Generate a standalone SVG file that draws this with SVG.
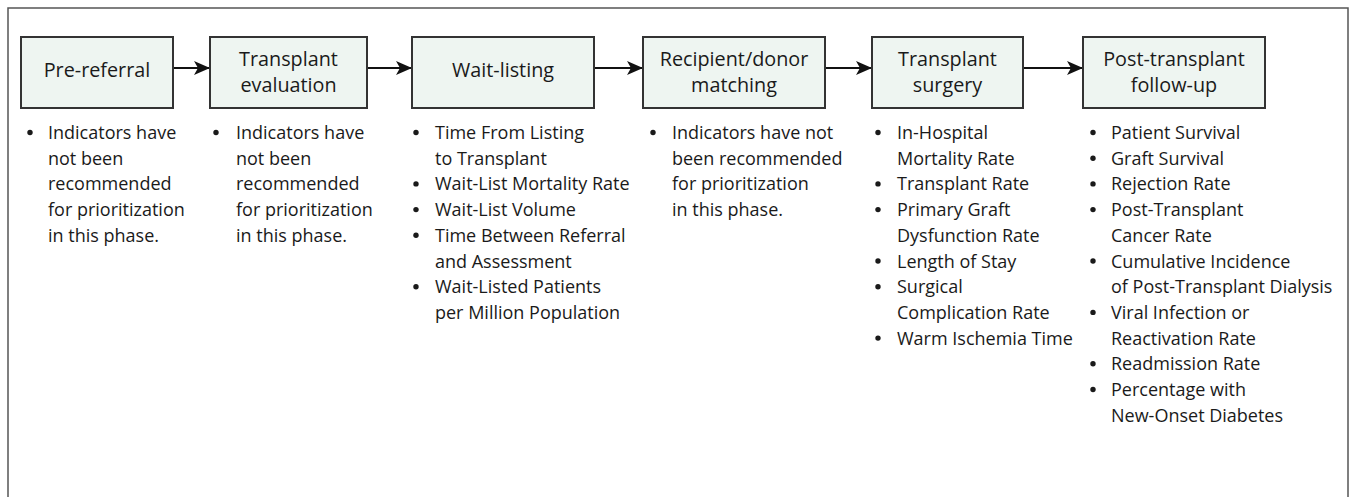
<svg xmlns="http://www.w3.org/2000/svg" width="1352" height="497" viewBox="0 0 1352 497">
<defs>
<style>
.box{fill:#eef5f1;stroke:#333;stroke-width:2}
.ttl{font-family:"Open Sans","Liberation Sans",sans-serif;font-size:19.8px;fill:#1a1a1a;text-anchor:middle}
.li{font-family:"Open Sans","Liberation Sans",sans-serif;font-size:18px;fill:#1a1a1a}
.bu{fill:#1a1a1a}
.con{stroke:#111;stroke-width:2;fill:none}
</style>
<marker id="ah" viewBox="0 0 16 14" refX="16" refY="7" markerWidth="16" markerHeight="14" markerUnits="userSpaceOnUse" orient="auto">
<path d="M0,0 L16,7 L0,14 L4,7 Z" fill="#111"/>
</marker>
</defs>
<rect x="0" y="0" width="1352" height="497" fill="#fff"/>
<rect x="8" y="8" width="1340" height="500" fill="none" stroke="#555" stroke-width="1.5"/>

<g id="connectors">
<line class="con" x1="173" y1="68" x2="210" y2="68" marker-end="url(#ah)"/>
<line class="con" x1="367" y1="68" x2="412" y2="68" marker-end="url(#ah)"/>
<line class="con" x1="594" y1="68" x2="643" y2="68" marker-end="url(#ah)"/>
<line class="con" x1="825" y1="68" x2="872" y2="68" marker-end="url(#ah)"/>
<line class="con" x1="1023" y1="68" x2="1083" y2="68" marker-end="url(#ah)"/>
</g>

<g id="pre-referral">
<rect class="box" x="21" y="37" width="152" height="71"/>
<text class="ttl" x="97" y="77">Pre-referral</text>
<circle class="bu" cx="30" cy="132.5" r="2.7"/>
<text class="li" x="48" y="139">Indicators have</text>
<text class="li" x="48" y="164.7">not been</text>
<text class="li" x="48" y="190.4">recommended</text>
<text class="li" x="48" y="216.1">for prioritization</text>
<text class="li" x="48" y="241.8">in this phase.</text>
</g>

<g id="transplant-evaluation">
<rect class="box" x="210" y="37" width="157" height="71"/>
<text class="ttl" x="288.5" y="65.5">Transplant</text>
<text class="ttl" x="288.5" y="91.5">evaluation</text>
<circle class="bu" cx="216" cy="132.5" r="2.7"/>
<text class="li" x="236" y="139">Indicators have</text>
<text class="li" x="236" y="164.7">not been</text>
<text class="li" x="236" y="190.4">recommended</text>
<text class="li" x="236" y="216.1">for prioritization</text>
<text class="li" x="236" y="241.8">in this phase.</text>
</g>

<g id="wait-listing">
<rect class="box" x="412" y="37" width="182" height="71"/>
<text class="ttl" x="503" y="77">Wait-listing</text>
<circle class="bu" cx="416" cy="132.5" r="2.7"/>
<text class="li" x="435" y="139">Time From Listing</text>
<text class="li" x="435" y="164.7">to Transplant</text>
<circle class="bu" cx="416" cy="183.9" r="2.7"/>
<text class="li" x="435" y="190.4">Wait-List Mortality Rate</text>
<circle class="bu" cx="416" cy="209.6" r="2.7"/>
<text class="li" x="435" y="216.1">Wait-List Volume</text>
<circle class="bu" cx="416" cy="235.3" r="2.7"/>
<text class="li" x="435" y="241.8">Time Between Referral</text>
<text class="li" x="435" y="267.5">and Assessment</text>
<circle class="bu" cx="416" cy="286.7" r="2.7"/>
<text class="li" x="435" y="293.2">Wait-Listed Patients</text>
<text class="li" x="435" y="318.9">per Million Population</text>
</g>

<g id="recipient-donor-matching">
<rect class="box" x="643" y="37" width="182" height="71"/>
<text class="ttl" x="734" y="65.5">Recipient/donor</text>
<text class="ttl" x="734" y="91.5">matching</text>
<circle class="bu" cx="653" cy="132.5" r="2.7"/>
<text class="li" x="672" y="139">Indicators have not</text>
<text class="li" x="672" y="164.7">been recommended</text>
<text class="li" x="672" y="190.4">for prioritization</text>
<text class="li" x="672" y="216.1">in this phase.</text>
</g>

<g id="transplant-surgery">
<rect class="box" x="872" y="37" width="151" height="71"/>
<text class="ttl" x="947.5" y="65.5">Transplant</text>
<text class="ttl" x="947.5" y="91.5">surgery</text>
<circle class="bu" cx="878" cy="132.5" r="2.7"/>
<text class="li" x="897" y="139">In-Hospital</text>
<text class="li" x="897" y="164.7">Mortality Rate</text>
<circle class="bu" cx="878" cy="183.9" r="2.7"/>
<text class="li" x="897" y="190.4">Transplant Rate</text>
<circle class="bu" cx="878" cy="209.6" r="2.7"/>
<text class="li" x="897" y="216.1">Primary Graft</text>
<text class="li" x="897" y="241.8">Dysfunction Rate</text>
<circle class="bu" cx="878" cy="261" r="2.7"/>
<text class="li" x="897" y="267.5">Length of Stay</text>
<circle class="bu" cx="878" cy="286.7" r="2.7"/>
<text class="li" x="897" y="293.2">Surgical</text>
<text class="li" x="897" y="318.9">Complication Rate</text>
<circle class="bu" cx="878" cy="338.1" r="2.7"/>
<text class="li" x="897" y="344.6">Warm Ischemia Time</text>
</g>

<g id="post-transplant-follow-up">
<rect class="box" x="1083" y="37" width="182" height="71"/>
<text class="ttl" x="1174" y="65.5">Post-transplant</text>
<text class="ttl" x="1174" y="91.5">follow-up</text>
<circle class="bu" cx="1093" cy="132.5" r="2.7"/>
<text class="li" x="1111" y="139">Patient Survival</text>
<circle class="bu" cx="1093" cy="158.2" r="2.7"/>
<text class="li" x="1111" y="164.7">Graft Survival</text>
<circle class="bu" cx="1093" cy="183.9" r="2.7"/>
<text class="li" x="1111" y="190.4">Rejection Rate</text>
<circle class="bu" cx="1093" cy="209.6" r="2.7"/>
<text class="li" x="1111" y="216.1">Post-Transplant</text>
<text class="li" x="1111" y="241.8">Cancer Rate</text>
<circle class="bu" cx="1093" cy="261" r="2.7"/>
<text class="li" x="1111" y="267.5">Cumulative Incidence</text>
<text class="li" x="1111" y="293.2">of Post-Transplant Dialysis</text>
<circle class="bu" cx="1093" cy="312.4" r="2.7"/>
<text class="li" x="1111" y="318.9">Viral Infection or</text>
<text class="li" x="1111" y="344.6">Reactivation Rate</text>
<circle class="bu" cx="1093" cy="363.8" r="2.7"/>
<text class="li" x="1111" y="370.3">Readmission Rate</text>
<circle class="bu" cx="1093" cy="389.5" r="2.7"/>
<text class="li" x="1111" y="396">Percentage with</text>
<text class="li" x="1111" y="421.7">New-Onset Diabetes</text>
</g>
</svg>
